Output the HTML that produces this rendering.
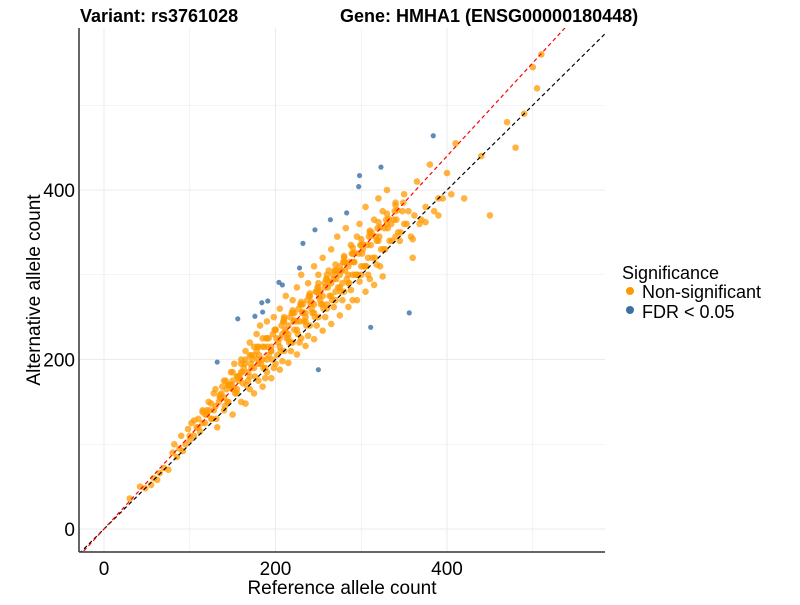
<!DOCTYPE html>
<html><head><meta charset="utf-8"><style>
body{margin:0;background:#fff;width:800px;height:600px;overflow:hidden;font-family:"Liberation Sans",sans-serif}
</style></head><body>
<svg id="chart" width="800" height="600" xmlns="http://www.w3.org/2000/svg">
<text x="80" y="22" font-size="18" font-weight="bold">Variant: rs3761028</text>
<text x="340" y="22" font-size="18" font-weight="bold">Gene: HMHA1 (ENSG00000180448)</text>
<g id="grid"></g>
<g id="pts"></g>
<g id="axes"></g>
<text x="342" y="594" font-size="19" text-anchor="middle">Reference allele count</text>
<text transform="translate(40,290) rotate(-90)" font-size="19" text-anchor="middle">Alternative allele count</text>
<g>
<text x="622" y="279" font-size="18">Significance</text>
<circle cx="630" cy="291" r="4" fill="#ff9900"/>
<text x="642" y="298" font-size="18">Non-significant</text>
<circle cx="630" cy="310" r="4" fill="#3a6fa8"/>
<text x="642" y="318" font-size="18">FDR &lt; 0.05</text>
</g>
</svg>
<script>
const xTicks=[0,200,400];
const yTicks=[0,200,400];
const refNS=[30,42,48,55,58,62,65,70,75,80,82,85,88,90,92,95,98,100,102,105,108,110,112,115,118,120,122,125,128,130,132,135,138,140,142,145,148,150,152,155,158,160,162,165,168,170,172,175,178,180,182,185,188,190,192,195,198,200,202,205,208,210,212,215,218,220,222,225,228,230,232,235,238,240,242,245,248,250,252,255,258,260,262,265,268,270,272,275,278,280,282,285,288,290,292,295,298,300,302,305,308,310,312,315,318,320,322,325,328,330,335,340,345,350,355,360,365,370,380,390,400,410,420,440,450,470,480,490,500,505,510,
140,145,150,155,160,165,170,175,180,185,190,195,200,205,210,215,220,225,230,235,240,245,250,255,260,265,270,275,280,285,290,295,300,305,310,320,330,340,350,
150,160,170,180,190,200,210,220,230,240,250,260,270,280,290,300,175,185,195,205,215,225,235,245,255,265,275,285,188,198,208,218,228,238,248,258,268,278,288,298,308,318,
120,126,134,141,147,153,158,163,168,173,178,183,187,192,197,203,207,213,217,222,227,233,237,243,247,253,257,263,267,273,277,283,287,293,297,303,307,313,317,323,327,333,338,343,348,353,
115,123,131,137,144,151,157,161,166,171,176,181,186,191,196,201,206,211,216,221,226,231,236,241,246,251,256,261,266,271,276,281,286,291,296,301,306,311,316,321,326,331,336,341,346,358,362,368,375,385,395,405,
100,110,118,128,136,143,149,156,164,172,179,189,199,209,219,229,239,249,259,269,279,289,299,309,319,329,339,349,
130,140,150,160,170,180,190,200,210,220,230,240,250,260,270,280,290,300,310,320,330,340,
165,175,185,195,205,215,225,235,245,255,265,275,285,295,305,315,325,
105,115,125,135,145,155,212,222,232,242,252,262,272,282,292,302,312,322,332,342,360,375,390];
const altNS=[36,50,48,52,60,58,66,72,70,90,100,85,95,110,92,100,118,105,125,110,120,130,115,140,125,135,150,130,160,145,120,155,168,140,175,150,185,165,195,160,178,200,172,210,185,220,190,205,230,200,240,215,190,245,225,210,250,235,205,260,230,250,275,240,220,270,255,285,245,300,265,250,290,275,260,310,280,300,270,320,285,265,305,330,295,280,345,310,290,320,355,300,335,270,315,345,360,300,330,380,320,295,350,365,340,390,310,375,330,400,360,385,340,395,375,320,410,365,430,390,420,455,390,440,370,480,450,490,545,520,560,
155,170,175,165,185,200,180,215,195,225,200,210,235,215,245,225,255,235,265,245,275,255,285,265,295,275,305,285,315,290,325,300,335,310,350,340,360,345,360,
135,150,165,175,185,195,210,220,225,240,250,260,270,280,300,310,190,200,215,225,230,245,255,265,275,290,300,310,178,190,198,210,220,228,240,250,262,270,282,292,300,312,
140,130,150,145,170,160,180,190,175,200,210,195,215,205,230,220,240,225,250,235,260,245,270,255,280,265,290,275,300,285,305,295,315,300,325,310,335,320,345,330,355,340,365,350,375,360,
125,140,130,160,150,165,175,185,170,195,180,205,190,215,200,225,210,235,220,245,230,255,240,265,250,275,260,285,270,295,280,305,290,315,300,325,310,335,320,345,330,355,340,365,350,345,370,360,380,375,390,395,
110,120,135,140,155,165,170,180,195,205,215,225,235,245,255,265,275,285,295,305,315,325,335,345,355,365,375,385,
165,175,185,195,205,215,225,235,248,258,268,278,290,300,312,322,332,342,352,362,372,382,
148,160,168,178,188,196,206,216,224,234,242,252,262,270,280,288,298,
128,138,148,158,170,180,232,246,256,268,280,292,304,314,326,336,346,356,366,376,342,362,370];
const refSig=[384,323,298,297,264,283,246,232,228,208,191,184,176,156,132,311,356,250,204,185];
const altSig=[464,427,417,404,365,373,353,337,308,288,269,267,251,248,197,238,255,188,291,256];
const redSlope=[1.1];
const redIntercept=[0];
const X0=104,XS=171.5/200,Y0=529,YS=169.5/200;
const sx=v=>X0+v*XS, sy=v=>Y0-v*YS;
const L=79,R=605,T=28,B=552;
const NS='http://www.w3.org/2000/svg';
function mk(t,a,p){const e=document.createElementNS(NS,t);for(const k in a)e.setAttribute(k,a[k]);p.appendChild(e);return e;}
const grid=document.getElementById('grid');
[-100,0,100,200,300,400,500,600].forEach(v=>{
 const x=sx(v); if(x>L&&x<R){const l=mk('line',{x1:x,x2:x,y1:T,y2:B,stroke:'#ebebeb','stroke-width':v%200==0?1:0.6},grid);
 
 }
 const y=sy(v); if(y>T&&y<B){const l=mk('line',{x1:L,x2:R,y1:y,y2:y,stroke:'#ebebeb','stroke-width':v%200==0?1:0.6},grid);
 
 }
});
mk('clipPath',{id:'cp'},document.getElementById('chart'));
mk('rect',{x:L,y:T,width:R-L,height:B-T},document.getElementById('cp'));
const d0=(L-X0)/XS, d1=700;
const pts=document.getElementById('pts');
refNS.forEach((v,i)=>{const c=mk('circle',{cx:sx(v),cy:sy(altNS[i]),r:3.3,fill:'#ff9900','fill-opacity':0.75},pts);
 
 });
refSig.forEach((v,i)=>{const c=mk('circle',{cx:sx(v),cy:sy(altSig[i]),r:2.6,fill:'#3a6fa8','fill-opacity':0.8},pts);
 
 });
const bl=mk('line',{x1:sx(d0),y1:sy(d0),x2:sx(d1),y2:sy(d1),stroke:'#000','stroke-width':1.2,'stroke-dasharray':'4,3','clip-path':'url(#cp)'},pts);


const rl=mk('line',{x1:sx(d0),y1:sy(d0*redSlope[0]+redIntercept[0]),x2:sx(d1),y2:sy(d1*redSlope[0]+redIntercept[0]),stroke:'#ff0000','stroke-width':1.2,'stroke-dasharray':'4,3','clip-path':'url(#cp)'},pts);


const axes=document.getElementById('axes');
mk('line',{x1:L,x2:L,y1:T,y2:B,stroke:'#333','stroke-width':1.5},axes);
mk('line',{x1:L,x2:R,y1:B,y2:B,stroke:'#333','stroke-width':1.5},axes);
xTicks.forEach(v=>{const t=mk('text',{x:sx(v),y:575,'font-size':19,'text-anchor':'middle'},axes);t.textContent=v;
 
 });
yTicks.forEach(v=>{const t=mk('text',{x:75,y:sy(v)+7,'font-size':19,'text-anchor':'end'},axes);t.textContent=v;
 
 });
</script>
</body></html>
